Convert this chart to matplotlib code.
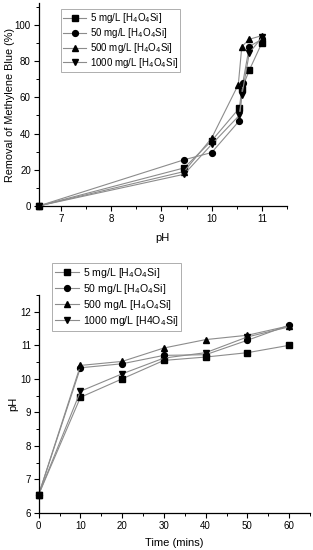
import matplotlib
matplotlib.use("Agg")
import matplotlib.pyplot as plt
from matplotlib.ticker import MultipleLocator

plt.rcParams["font.family"] = ["Liberation Sans", "DejaVu Sans"]

# top panel: removal vs pH
ph_5 = [6.55, 9.45, 10.0, 10.55, 10.6, 10.75, 11.0]
rem_5 = [0, 21, 36, 54, 64.5, 75, 90]
ph_50 = [6.55, 9.45, 10.0, 10.55, 10.62, 10.75, 11.0]
rem_50 = [0, 25.5, 29.5, 47, 68, 88, 92]
ph_500 = [6.55, 9.45, 10.0, 10.53, 10.6, 10.75, 11.0]
rem_500 = [0, 19, 37.5, 67, 88, 92, 94]
ph_1000 = [6.55, 9.45, 10.0, 10.55, 10.6, 10.75, 11.0]
rem_1000 = [0, 17.5, 34, 50, 61, 84.5, 93]

# bottom panel: pH vs time
time = [0, 10, 20, 30, 40, 50, 60]
t_5 = [6.55, 9.45, 10.0, 10.55, 10.65, 10.78, 11.0]
t_50 = [6.55, 10.33, 10.45, 10.7, 10.72, 11.15, 11.6]
t_500 = [6.55, 10.4, 10.52, 10.92, 11.17, 11.3, 11.58]
t_1000 = [6.55, 9.63, 10.15, 10.62, 10.78, 11.25, 11.55]

labels_top = ["5 mg/L [H$_4$O$_4$Si]", "50 mg/L [H$_4$O$_4$Si]",
              "500 mg/L [H$_4$O$_4$Si]", "1000 mg/L [H$_4$O$_4$Si]"]
labels_bot = ["5 mg/L [H$_4$O$_4$Si]", "50 mg/L [H$_4$O$_4$Si]",
              "500 mg/L [H$_4$O$_4$Si]", "1000 mg/L [H4O$_4$Si]"]
markers = ["s", "o", "^", "v"]
line_col = "#8c8c8c"

fig = plt.figure(figsize=(3.13, 5.5), dpi=100)
W, H = 313, 550
ax1 = fig.add_axes([38.5 / W, 1 - 206 / H, (287 - 38.5) / W, (206 - 3) / H])
ax2 = fig.add_axes([38.7 / W, 1 - 513 / H, (310 - 38.7) / W, (513 - 295) / H])


def style(ax):
    for s in ("top", "right"):
        ax.spines[s].set_visible(False)
    for s in ("left", "bottom"):
        ax.spines[s].set_linewidth(0.9)
    ax.tick_params(which="major", direction="out", length=3.5, width=0.8, labelsize=7, pad=2)
    ax.tick_params(which="minor", direction="out", length=2, width=0.7)


def legend(ax, x, y, size, spacing):
    leg = ax.legend(loc="upper left", bbox_to_anchor=(x / W, 1 - y / H),
                    bbox_transform=fig.transFigure, fontsize=size, frameon=True,
                    fancybox=False, edgecolor="#999999", handlelength=2.3,
                    borderpad=0.25, labelspacing=spacing, handletextpad=0.4,
                    borderaxespad=0)
    leg.get_frame().set_linewidth(0.7)
    return leg


tops = [(ph_5, rem_5), (ph_50, rem_50), (ph_500, rem_500), (ph_1000, rem_1000)]
for (x, y), m, lab in zip(tops, markers, labels_top):
    ax1.plot(x, y, color=line_col, lw=0.8, marker=m, ms=4.2,
             mfc="black", mec="black", label=lab, clip_on=False)
ax1.set_xlim(6.55, 11.5)
ax1.set_ylim(0, 112)
ax1.xaxis.set_major_locator(MultipleLocator(1))
ax1.xaxis.set_minor_locator(MultipleLocator(0.5))
ax1.yaxis.set_major_locator(MultipleLocator(20))
ax1.yaxis.set_minor_locator(MultipleLocator(10))
ax1.set_xlabel("pH", fontsize=8, labelpad=7)
ax1.set_ylabel("Removal of Methylene Blue (%)", fontsize=7.8)
ax1.yaxis.set_label_coords((15 - 38.5) / (287 - 38.5), 0.5)
style(ax1)
legend(ax1, 61, 9, 7, 0.08)

bots = [t_5, t_50, t_500, t_1000]
for y, m, lab in zip(bots, markers, labels_bot):
    ax2.plot(time, y, color=line_col, lw=0.8, marker=m, ms=4.2,
             mfc="black", mec="black", label=lab, clip_on=False)
ax2.set_xlim(0, 65)
ax2.set_ylim(6, 12.5)
ax2.xaxis.set_major_locator(MultipleLocator(10))
ax2.xaxis.set_minor_locator(MultipleLocator(5))
ax2.yaxis.set_major_locator(MultipleLocator(1))
ax2.yaxis.set_minor_locator(MultipleLocator(0.5))
ax2.set_xlabel("Time (mins)", fontsize=8, labelpad=5)
ax2.set_ylabel("pH", fontsize=8)
ax2.yaxis.set_label_coords((18 - 38.7) / (310 - 38.7), 0.5)
style(ax2)
legend(ax2, 52, 263, 7.6, 0.2)

fig.savefig("out.png", dpi=100, facecolor="white")
